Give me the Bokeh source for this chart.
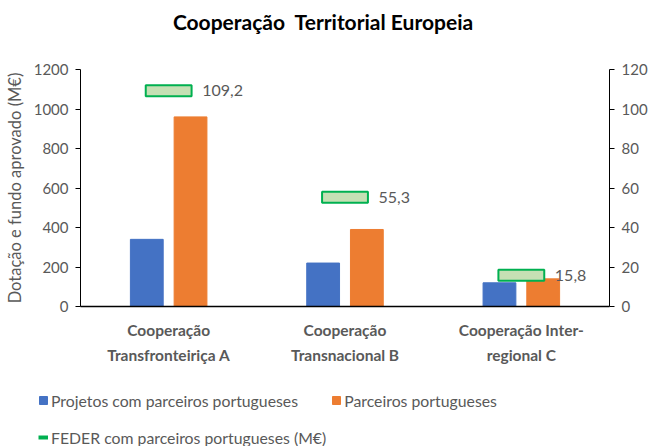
from bokeh.plotting import figure
from bokeh.models import (ColumnDataSource, Range1d, LinearAxis, FixedTicker,
                          Legend, LegendItem, FactorRange, Div)
from bokeh.layouts import column, row
from bokeh.transform import dodge
from bokeh.core.properties import value
from bokeh.embed import file_html
from bokeh.resources import INLINE

title_text = "Cooperação\u00a0 Territorial Europeia"
categories = ["Cooperação\nTransfronteiriça A", "Cooperação\nTransnacional B", "Cooperação Inter-\nregional C"]
projetos = [340, 220, 120]
parceiros = [960, 390, 140]
feder = [109.2, 55.3, 15.8]
feder_labels = ["109,2", "55,3", "15,8"]
left_ticks = [0, 200, 400, 600, 800, 1000, 1200]
right_ticks = [0, 20, 40, 60, 80, 100, 120]
series_names = ["Projetos com parceiros portugueses", "Parceiros portugueses",
                "FEDER com parceiros portugueses (M€)"]

FONT = "Lato"
GRAY = "#595959"
BLUE, ORANGE, GREEN, LIGHTGREEN = "#4472c4", "#ed7d31", "#00b050", "#c5e0b4"

src = ColumnDataSource(dict(cat=categories, projetos=projetos, parceiros=parceiros,
                            feder=feder, lab=feder_labels))

title = Div(text=title_text, width=646, height=40, margin=0,
            styles={"font-family": FONT, "font-size": "21px", "font-weight": "bold",
                    "color": "black", "text-align": "center", "line-height": "44px",
                    "width": "646px", "white-space": "pre"})

p = figure(width=650, height=332, x_range=FactorRange(*categories), y_range=Range1d(0, 1200),
           output_backend="svg", toolbar_location=None,
           min_border_left=80, min_border_right=38, min_border_top=29, min_border_bottom=66)
p.outline_line_color = None
p.xgrid.grid_line_color = None
p.ygrid.grid_line_color = None

p.extra_y_ranges = {"right": Range1d(0, 120)}

b1 = p.vbar(x=dodge("cat", -0.124, range=p.x_range), top="projetos", width=0.186,
            source=src, fill_color=BLUE, line_color=BLUE)
b2 = p.vbar(x=dodge("cat", 0.124, range=p.x_range), top="parceiros", width=0.186,
            source=src, fill_color=ORANGE, line_color=ORANGE)
m = p.rect(x=dodge("cat", 0.0, range=p.x_range), y="feder", width=0.26, height=11,
           height_units="screen", source=src, y_range_name="right",
           fill_color=LIGHTGREEN, line_color=GREEN, line_width=2)
p.text(x=dodge("cat", 0.19, range=p.x_range), y="feder", text="lab", source=src,
       y_range_name="right", text_font=value(FONT), text_font_size="16px",
       text_color=GRAY, text_baseline="middle", text_align="left")

# axes
ax = p.xaxis[0]
ax.axis_line_color = "black"
ax.axis_line_width = 1.5
ax.major_tick_line_color = None
ax.minor_tick_line_color = None
ax.major_label_text_font = FONT
ax.major_label_text_font_size = "15.5px"
ax.major_label_text_font_style = "bold"
ax.major_label_text_color = GRAY
ax.major_label_text_line_height = 1.42
ax.major_label_standoff = 8

ly = p.yaxis[0]
ly.ticker = FixedTicker(ticks=left_ticks)
ly.axis_label = "Dotação e fundo aprovado (M€)"
ly.axis_label_text_font = FONT
ly.axis_label_text_font_size = "16.5px"
ly.axis_label_text_font_style = "normal"
ly.axis_label_text_color = GRAY
ly.axis_label_standoff = 6
ly.axis_line_color = "black"
ly.major_tick_out = 5
ly.major_tick_in = 0
ly.major_tick_line_color = "black"
ly.minor_tick_line_color = None
ly.major_label_text_font = FONT
ly.major_label_text_font_size = "15px"
ly.major_label_text_color = GRAY
ly.major_label_standoff = 7

ry = LinearAxis(y_range_name="right", ticker=FixedTicker(ticks=right_ticks))
ry.axis_line_color = "black"
ry.major_tick_out = 5
ry.major_tick_in = 0
ry.major_tick_line_color = "black"
ry.minor_tick_line_color = None
ry.major_label_text_font = FONT
ry.major_label_text_font_size = "15px"
ry.major_label_text_color = GRAY
ry.major_label_standoff = 7
p.add_layout(ry, "right")

# legend in a separate strip below
lf = figure(width=650, height=74, x_range=Range1d(0, 1), y_range=Range1d(0, 1),
            output_backend="svg", toolbar_location=None,
            x_axis_location=None, y_axis_location=None,
            min_border_left=0, min_border_right=0, min_border_top=0, min_border_bottom=0)
lf.grid.visible = False
lf.outline_line_color = None
lr1 = lf.vbar(x=[5], top=[5], width=0.1, fill_color=BLUE, line_color=BLUE)
lr2 = lf.vbar(x=[5], top=[5], width=0.1, fill_color=ORANGE, line_color=ORANGE)
lr3 = lf.line(x=[5, 6], y=[5, 6], line_color=GREEN, line_width=4)
legend = Legend(items=[
    LegendItem(label=series_names[0], renderers=[lr1]),
    LegendItem(label=series_names[1], renderers=[lr2]),
    LegendItem(label=series_names[2], renderers=[lr3]),
], orientation="horizontal", ncols=2)
legend.label_text_font = FONT
legend.label_text_font_size = "15.8px"
legend.label_text_color = GRAY
legend.glyph_width = 10
legend.glyph_height = 10
legend.label_standoff = 3
legend.spacing = 5
legend.label_height = 32
legend.border_line_color = None
legend.background_fill_alpha = 0
legend.margin = 0
legend.padding = 0
legend.location = (38, -7)
lf.add_layout(legend, "center")

open("out.html", "w").write(file_html(column(title, p, row(lf)), INLINE))
